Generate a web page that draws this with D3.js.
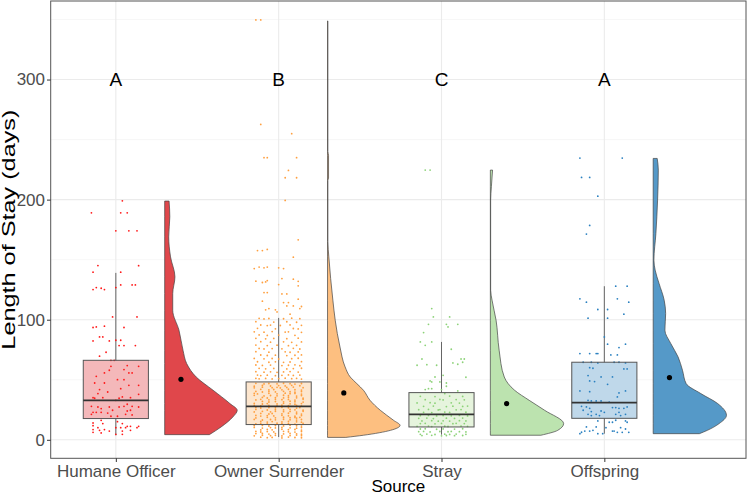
<!DOCTYPE html>
<html><head><meta charset="utf-8">
<script src="https://cdn.jsdelivr.net/npm/d3@7"></script>
<style>body{margin:0;background:#fff}svg{display:block}text{font-family:"Liberation Sans",Arial,sans-serif}</style>
</head><body><svg id="c" width="750" height="495"></svg>
<script>
const categories = ["Humane Officer","Owner Surrender","Stray","Offspring"];
const groupLetters = ["A","B","C","A"];
const yTicks = [0,100,200,300];
const yMinor = [50,150,250,350];
// [lower whisker, Q1, median, Q3, upper whisker]
const boxStats = [
  [3.8,17.7,32.9,66.2,139.0],
  [2.3,12.7,27.9,48.2,101.5],
  [4.3,10.7,21.2,39.3,81.5],
  [5.1,17.9,31.0,64.6,127.9]
];
const means = [50.4,39.0,30.2,51.8];
// half-violin profiles: [days, relative density]
const densHO = [[198.8,0.06],[185.7,0.07],[169,0.055],[152.3,0.08],[135.7,0.14],[121.8,0.11],[107.9,0.11],[91.3,0.195],[74.6,0.25],[63.5,0.30],[52.3,0.43],[41.3,0.66],[30.2,0.89],[24.6,0.99],[19,0.93],[10.7,0.77],[4.3,0.61]];
const densOS = [[348.8,0.005],[240,0.005],[237,0.014],[218,0.014],[216,0.005],[165,0.005],[152.3,0.018],[116.3,0.073],[99.6,0.105],[77.3,0.17],[60.7,0.24],[52.3,0.31],[46.8,0.40],[41.3,0.49],[32.9,0.58],[24.6,0.72],[16.3,0.90],[12,0.99],[7.9,0.86],[3.8,0.49],[2.0,0.25]];
const densStray = [[224.6,0.03],[210.7,0.014],[199.6,0.004],[124.6,0.004],[116.3,0.023],[99.6,0.078],[74.6,0.12],[52.3,0.19],[41.3,0.33],[32.9,0.53],[24.6,0.74],[13.5,1.0],[7.9,0.92],[3.8,0.69]];
const densOff = [[234.3,0.055],[224.6,0.07],[199.6,0.06],[171.8,0.037],[149.6,0.01],[141.3,0.027],[130.2,0.08],[116.3,0.15],[105.2,0.17],[91.3,0.16],[80.2,0.24],[69,0.34],[57.9,0.40],[46.8,0.45],[38.5,0.65],[30.2,0.88],[20.4,1.0],[13.5,0.90],[7.9,0.74],[5.1,0.63]];
// jittered observations: [horizontal jitter (category units), days]
const ptsHO = [[0.04,199],[-0.15,189],[0.03,189],[0.07,189],[0.00,174],[0.08,174],[0.13,174],[-0.11,145.1],[0.14,145],[-0.14,139.6],[0.03,139.6],[0.00,126.8],[0.03,129],[0.10,129],[0.12,129],[-0.14,125.1],[-0.12,126.8],[-0.09,126.2],[-0.07,125.1],[-0.02,102.3],[0.13,102.3],[-0.14,93.5],[-0.12,94],[-0.07,94.6],[0.05,93.5],[-0.14,82.3],[-0.10,85.7],[-0.08,85.7],[-0.04,82.3],[0.00,82.9],[0.03,82.9],[0.02,78.5],[0.05,78.5],[0.12,78.5],[-0.06,72.9],[-0.10,69.6],[-0.03,66.2],[-0.01,66.2],[0.07,61.8],[0.14,61.2],[-0.03,61.2],[0.05,58.5],[-0.07,55.7],[-0.04,57.9],[0.08,55.7],[0.10,55.7],[-0.12,52.9],[0.01,50.1],[-0.07,47.3],[0.05,50.1],[0.14,45.4],[-0.13,47.3],[0.08,45.4],[0.03,42.6],[-0.10,41.8],[-0.05,39.8],[-0.11,38.5],[0.14,37.9],[0.04,35.7],[-0.14,35.1],[-0.13,34.6],[-0.08,35.1],[0.00,32.9],[0.02,34.6],[0.09,35.1],[0.07,29.6],[-0.15,27.9],[-0.11,27.3],[-0.09,26],[-0.04,27.3],[0.05,27.9],[0.10,27.9],[0.14,27.3],[-0.02,24.6],[0.02,27.3],[-0.14,22.9],[-0.12,22.9],[-0.09,22.9],[-0.05,22.3],[0.07,24],[0.09,24.6],[-0.15,21.2],[0.01,19.6],[0.06,21.2],[0.10,20.7],[-0.03,19.6],[-0.09,16.2],[-0.14,14],[-0.08,13.5],[0.01,15.1],[0.04,13.5],[0.07,11.2],[0.09,11.2],[0.14,11.2],[-0.14,11.8],[-0.11,10.1],[-0.10,7.9],[-0.07,8.5],[0.00,10.1],[0.03,10.1],[0.06,10.1],[0.13,10.1],[-0.14,6.2],[-0.09,5.7],[-0.04,7.3],[0.04,7.3],[0.09,7.9],[-0.14,8.5],[0.00,4.6],[0.04,4.6]];
const ptsOS = [[-0.14,349.6],[-0.11,349.6],[-0.11,262.6],[0.08,254.9],[-0.09,234.9],[-0.07,234.9],[0.11,234.9],[0.06,224.3],[0.04,218.2],[0.11,218.2],[0.04,199.3],[0.12,166.5],[0.09,152.1],[-0.13,157.6],[-0.10,157.6],[-0.07,158.5],[-0.15,142.6],[-0.12,143.8],[-0.09,143.2],[-0.07,143.8],[0.00,143.2],[0.03,142.6],[-0.14,132.1],[-0.10,131.0],[-0.08,131.5],[-0.07,132.6],[0.00,129.3],[0.02,134.3],[0.09,133.8],[0.12,132.0],[0.12,128.2],[-0.09,122.6],[-0.07,122.6],[0.02,121.5],[0.05,121.5],[-0.10,115.4],[0.12,117.1],[0.03,114.3],[0.06,114.3],[0.05,111.5],[0.09,111.5],[0.13,109.3],[0.14,111.0],[-0.08,108.2],[-0.06,109.3],[-0.02,108.2],
[-0.01,106.5],[0.07,104.6],[-0.12,101.2],[-0.09,100.7],[-0.06,101.0],[0.03,100.8],[0.08,101.3],[0.13,100.9],[-0.14,98.4],[-0.03,98.0],[0.05,98.3],[0.11,97.9],[-0.11,95.6],[-0.07,95.1],[-0.05,95.5],[0.01,95.2],[0.07,95.7],[0.14,95.3],[-0.13,92.8],[-0.02,92.4],[0.09,92.7],[0.12,92.3],[-0.15,89.9],[-0.09,89.6],[-0.04,90.1],[0.04,89.7],[0.06,89.9],[0.14,89.5],[-0.12,87.3],[-0.07,86.9],[0.00,87.2],[0.10,87.0],[-0.14,84.5],[-0.08,84.1],[-0.03,84.4],[0.05,84.2],[0.12,84.6],[-0.11,81.7],[-0.05,81.3],[0.03,81.6],[0.08,81.2],[0.14,81.5],[-0.14,78.9],[-0.07,78.5],[-0.01,78.8],[0.06,78.4],[0.11,78.7],[-0.12,76.1],[-0.09,75.7],[-0.04,76.0],[0.02,75.8],[0.09,76.2],[0.13,75.6],[-0.14,73.4],[-0.06,73.0],[0.04,73.3],[0.07,72.9],[0.12,73.2],[-0.11,70.6],[-0.07,70.2],[-0.02,70.5],[0.05,70.1],[0.10,70.4],[0.14,70.7],[-0.15,67.8],[-0.09,67.4],[-0.04,67.7],[0.00,67.3],[0.08,67.6],[0.12,67.9],[-0.13,65.0],[-0.06,64.6],[-0.02,64.9],[0.03,64.5],[0.07,64.8],[0.14,65.1],[-0.14,62.3],[-0.10,61.9],[-0.05,62.2],[0.02,61.8],[0.06,62.1],[0.10,62.4],[0.13,61.7],[-0.12,59.5],[-0.08,59.1],[-0.03,59.4],[0.05,59.0],[0.09,59.3],[0.14,59.6],[-0.14,56.7],[-0.09,56.3],[-0.05,56.6],[-0.01,56.2],[0.03,56.5],[0.07,56.8],[0.12,56.4],[-0.13,53.9],[-0.11,53.5],[-0.07,53.8],[-0.02,53.4],[0.02,53.7],[0.06,54.0],[0.09,53.6],[0.13,53.9],[-0.14,51.2],[-0.12,50.8],[-0.08,51.1],[-0.04,50.7],[0.00,51.0],[0.04,51.3],[0.08,50.9],[0.11,51.2],[0.14,50.6],
[-0.14,47.0],[-0.09,46.5],[-0.06,46.9],[-0.01,46.6],[0.03,47.1],[0.07,46.7],[0.10,46.4],[0.14,46.9],[-0.10,45.3],[-0.05,44.8],[0.00,45.2],[0.04,44.9],[0.08,45.4],[0.13,45.0],[-0.15,44.7],[-0.15,43.3],[-0.10,43.8],[-0.04,43.4],[-0.01,43.7],[0.01,43.2],[0.05,43.6],[0.09,43.9],[0.15,43.4],[-0.11,42.0],[-0.06,41.5],[-0.03,41.9],[0.02,41.6],[0.06,42.1],[0.10,41.7],[0.14,41.4],[-0.14,40.3],[-0.10,39.8],[-0.06,40.2],[-0.02,39.9],[0.03,40.4],[0.07,40.0],[0.10,39.7],[0.14,40.2],[-0.13,38.2],[-0.06,38.7],[-0.01,38.3],[0.04,38.8],[0.07,38.4],[0.10,38.6],[0.14,38.1],[-0.15,38.7],[-0.15,37.0],[-0.09,36.5],[-0.05,36.9],[-0.01,36.6],[0.03,37.1],[0.06,36.7],[0.11,36.4],[0.14,36.9],[-0.10,35.3],[-0.07,34.8],[-0.02,35.2],[0.03,34.9],[0.06,35.4],[0.11,35.0],[0.15,34.7],[-0.14,33.2],[-0.11,33.7],[-0.06,33.3],[-0.02,33.8],[0.02,33.4],[0.06,33.6],[0.10,33.1],[0.15,33.7],[-0.10,32.0],[-0.06,31.5],[-0.02,31.9],[0.03,31.6],[0.07,32.1],[0.10,31.7],[0.15,31.4],[-0.15,30.3],[-0.10,29.8],[-0.07,30.2],[-0.01,29.9],[0.03,30.4],[0.07,30.0],[0.10,29.7],[0.14,30.2],[-0.11,28.2],[-0.06,28.7],[-0.01,28.3],[0.02,28.8],[0.06,28.4],[0.11,28.6],[0.14,28.1],[-0.15,28.7],[-0.14,27.0],[-0.11,26.5],[-0.06,26.9],[-0.02,26.6],[0.02,27.1],[0.06,26.7],[0.11,26.4],[0.13,26.9],[-0.14,25.3],[-0.07,24.8],[-0.02,25.2],[0.03,24.9],[0.07,25.4],[0.10,25.0],[0.15,24.7],[-0.15,23.2],[-0.10,23.7],[-0.05,23.3],[-0.02,23.8],[0.03,23.4],[0.07,23.6],[0.11,23.1],[0.15,23.7],[-0.11,22.0],[-0.06,21.5],[-0.04,21.9],[0.02,21.6],[0.06,22.1],[0.11,21.7],[0.14,21.4],[-0.14,20.3],[-0.11,19.8],[-0.07,20.2],[-0.03,19.9],[0.02,20.4],[0.06,20.0],[0.10,19.7],[0.14,20.2],[-0.14,18.2],[-0.07,18.7],[-0.02,18.3],[0.03,18.8],[0.07,18.4],[0.10,18.6],[0.11,18.1],[0.13,18.7],[-0.15,17.0],[-0.10,16.5],[-0.05,16.9],[-0.02,16.6],[0.03,17.1],[0.07,16.7],[0.11,16.4],[0.14,16.9],[-0.11,15.3],[-0.07,14.8],[-0.04,15.2],[0.02,14.9],[0.06,15.4],[0.11,15.0],[0.14,14.7],[-0.14,13.2],[-0.11,13.7],[-0.07,13.3],[-0.01,13.8],[0.02,13.4],[0.06,13.6],[0.10,13.1],[0.15,13.7],
[-0.10,12.0],[-0.06,11.5],[-0.02,11.9],[0.03,11.6],[0.07,12.1],[0.11,11.7],[0.14,11.4],[-0.15,11.9],[-0.15,10.3],[-0.10,9.8],[-0.05,10.2],[-0.02,9.9],[0.02,10.4],[0.07,10.0],[0.11,9.7],[0.14,10.2],[-0.11,8.2],[-0.07,8.7],[-0.04,8.3],[0.02,8.8],[0.06,8.4],[0.10,8.6],[0.14,8.1],[-0.14,7.0],[-0.11,6.5],[-0.07,6.9],[-0.03,6.6],[0.03,7.1],[0.06,6.7],[0.10,6.4],[0.14,6.9],[-0.10,5.3],[-0.06,4.8],[-0.02,5.2],[0.03,4.9],[0.07,5.4],[0.11,5.0],[0.14,4.7],[-0.14,5.2],[-0.15,3.3],[-0.10,3.8],[-0.05,3.4],[-0.02,3.7],[0.02,3.2],[0.07,3.6],[0.11,3.9],[0.14,3.4],[-0.11,2.2],[-0.07,1.8],[-0.04,2.0],[0.02,1.6],[0.06,2.3],[0.10,1.9],[0.14,1.7]];
const ptsStray = [[-0.10,224.6],[-0.07,224.6],[-0.06,109.3],[-0.05,102.3],[0.05,102.3],[-0.08,96.2],[0.03,96.2],[0.04,94.0],[0.10,96.2],[-0.11,89.3],[-0.13,81.5],[-0.10,78.7],[-0.06,81.5],[0.06,75.4],[-0.12,67.3],[0.12,67.3],[0.14,67.3],[-0.15,62.1],[-0.09,62.6],[-0.03,62.1],[0.07,64.0],[0.10,62.9],[0.13,64.6],[0.01,53.7],[-0.04,52.3],[0.15,52.1],[-0.07,49.0],[-0.06,48.2],[-0.01,48.2],[0.03,47.3],[0.03,44.6],[-0.10,41.8],[-0.08,42.6],[-0.06,42.6],[0.00,41.8],[0.10,40.7],[0.02,38.5],
[-0.13,36.2],[-0.04,36.0],[0.05,36.4],[0.13,36.1],[-0.10,33.4],[-0.01,33.6],[0.01,33.2],[0.09,33.5],[0.14,33.3],[-0.15,30.7],[-0.07,30.9],[-0.04,30.5],[0.06,30.8],[0.11,30.6],[-0.11,27.9],[-0.05,28.1],[0.03,27.7],[0.07,28.0],[0.13,27.8],[0.16,28.1],[-0.14,25.1],[-0.08,25.3],[-0.02,24.9],[-0.01,25.2],[0.09,25.0],[0.12,25.2],[-0.11,22.9],[-0.06,22.7],[0.02,23.1],[0.05,22.8],[0.15,23.0],[-0.13,20.1],[-0.08,20.3],[-0.03,19.9],[0.01,20.2],[0.06,20.0],[0.11,20.3],[0.16,19.9],[-0.14,17.9],[-0.09,18.1],[-0.05,17.7],[0.03,18.0],[0.08,17.8],[0.13,18.1],[-0.12,15.7],[-0.06,15.9],[-0.02,15.5],[0.01,15.8],[0.05,15.6],[0.11,15.9],[0.15,15.7],[-0.13,13.5],[-0.10,13.7],[-0.04,13.3],[-0.00,13.6],[0.07,13.4],[0.09,13.7],[0.14,13.5],[-0.15,11.2],[-0.08,11.4],[-0.06,11.0],[0.02,11.3],[0.04,11.1],[0.12,11.4],[0.16,11.2],[-0.13,9.0],[-0.10,9.2],[-0.03,8.8],[0.01,9.1],[0.08,8.9],[0.13,9.2],[-0.14,6.8],[-0.11,7.0],[-0.07,6.6],[-0.01,6.9],[0.04,6.7],[0.06,7.0],[0.11,6.8],[0.15,6.6],[-0.13,4.6],[-0.09,4.8],[-0.04,4.4],[0.02,4.7],[0.05,4.5],[0.09,4.8],[0.15,4.6],[-0.12,3.5],[-0.06,3.7],[0.00,3.3],[0.03,3.6],[0.08,3.4],[0.13,3.6]];
const ptsOff = [[-0.15,234.6],[0.11,234.6],[-0.14,218.5],[-0.09,218.5],[-0.04,202.9],[-0.09,178.5],[-0.11,171.3],[0.07,127.9],[0.14,127.9],[-0.15,117.4],[-0.11,114.6],[0.08,117.4],[0.15,114.6],[-0.04,108.5],[0.02,108.5],[0.12,104.6],[-0.10,101.3],[0.02,101.3],[0.00,85.7],[0.02,79.6],[0.13,79.6],[0.09,76.8],[-0.15,71.8],[-0.09,71.8],[-0.05,71.8],[-0.04,71.8],[0.04,70.7],[0.08,70.7],[-0.13,64.6],[-0.08,64.6],[-0.04,64.0],[0.06,64.6],[0.09,64.6],[0.13,64.0],[-0.09,60.1],[-0.07,59.6],[0.12,59.0],[0.14,59.0],[-0.10,53.5],[-0.02,52.4],[0.05,52.4],[-0.06,48.5],[-0.09,49.0],[-0.15,40.7],[-0.09,40.1],[0.02,46.2],[0.13,40.7],[0.09,39.0],[0.08,35.7],[-0.10,32.9],[-0.08,32.4],[-0.05,32.4],[-0.02,32.4],[0.03,31.3],[-0.14,27.9],[-0.11,27.4],[-0.09,26.2],[0.05,26.8],[0.07,26.8],[0.09,26.2],[0.12,26.2],[0.14,27.4],[-0.13,24.6],[-0.08,23.5],[-0.02,24.0],[0.00,22.9],[0.09,22.9],[-0.10,21.2],[-0.08,20.2],[-0.05,21.2],[-0.03,20.2],[0.07,21.2],[0.10,20.2],[0.13,21.2],[0.07,16.3],[0.13,15.7],[-0.04,15.7],[0.03,14.6],[0.05,14.6],[0.14,14.6],[-0.11,10.7],[-0.05,10.7],[0.01,10.1],[0.10,10.1],[0.13,9.0],[-0.14,6.3],[-0.12,7.3],[-0.09,7.3],[-0.07,7.9],[-0.04,5.1],[0.05,7.3],[0.06,7.3],[0.08,6.2],[0.11,6.2],[0.15,6.2],[-0.15,5.1],[-0.01,5.1]];

const densities = [densHO, densOS, densStray, densOff];
const points = [ptsHO, ptsOS, ptsStray, ptsOff];
const violinFill = ["#E0474B","#FDBF80","#BCE3AF","#5599C8"];
const boxFill = ["#F4B8BA","#FDE6CE","#E6F4DD","#BFD8EA"];
const pointColor = ["#FF1A1A","#FFA040","#8CD278","#2A80C0"];

const svg = d3.select("#c");
const P = {l:50.7, r:746, t:1, b:458.3};
const x = d3.scaleLinear().domain([0.6, 4.87]).range([P.l, P.r]);
const y = d3.scaleLinear().domain([-15.4, 365.4]).range([P.b, P.t]);
const boxHalf = 0.2, violinOff = 0.3, violinMax = 0.45, meanOff = 0.4;

const g = svg.append("g");
// grid
g.selectAll(".minor").data(yMinor).join("line")
  .attr("x1",P.l).attr("x2",P.r).attr("y1",d=>y(d)).attr("y2",d=>y(d))
  .attr("stroke","#f2f2f2").attr("stroke-width",0.6);
g.selectAll(".major").data(yTicks).join("line")
  .attr("x1",P.l).attr("x2",P.r).attr("y1",d=>y(d)).attr("y2",d=>y(d))
  .attr("stroke","#ebebeb").attr("stroke-width",1.1);
g.selectAll(".vmajor").data(categories).join("line")
  .attr("x1",(d,i)=>x(i+1)).attr("x2",(d,i)=>x(i+1)).attr("y1",P.t).attr("y2",P.b)
  .attr("stroke","#ebebeb").attr("stroke-width",1.1);

// violins
const area = d3.area().curve(d3.curveMonotoneY);
densities.forEach((dens,i)=>{
  const c = i+1;
  area.y(d=>y(d[0])).x0(x(c+violinOff)).x1(d=>x(c+violinOff+violinMax*d[1]));
  g.append("path").attr("d",area(dens)).attr("fill",violinFill[i])
    .attr("stroke","#444").attr("stroke-width",0.7);
});

// boxplots
boxStats.forEach((s,i)=>{
  const c = i+1;
  g.append("line").attr("x1",x(c)).attr("x2",x(c)).attr("y1",y(s[0])).attr("y2",y(s[4]))
    .attr("stroke","#666").attr("stroke-width",1);
  g.append("rect").attr("x",x(c-boxHalf)).attr("width",x(c+boxHalf)-x(c-boxHalf))
    .attr("y",y(s[3])).attr("height",y(s[1])-y(s[3])).attr("fill",boxFill[i]);
});
// points
points.forEach((pts,i)=>{
  const c=i+1;
  g.append("g").selectAll("circle").data(pts).join("circle")
    .attr("cx",d=>x(c+d[0])).attr("cy",d=>y(d[1])).attr("r",0.9)
    .attr("fill",pointColor[i]);
});
boxStats.forEach((s,i)=>{
  const c = i+1;
  g.append("rect").attr("x",x(c-boxHalf)).attr("width",x(c+boxHalf)-x(c-boxHalf))
    .attr("y",y(s[3])).attr("height",y(s[1])-y(s[3])).attr("fill","none")
    .attr("stroke","#555").attr("stroke-width",1);
  g.append("line").attr("x1",x(c-boxHalf)).attr("x2",x(c+boxHalf)).attr("y1",y(s[2])).attr("y2",y(s[2]))
    .attr("stroke","#333").attr("stroke-width",1.8);
});
// means
g.selectAll(".mean").data(means).join("circle")
  .attr("cx",(d,i)=>x(i+1+meanOff)).attr("cy",d=>y(d)).attr("r",2.6).attr("fill","#000");
// letters
g.selectAll(".let").data(groupLetters).join("text")
  .attr("x",(d,i)=>x(i+1)).attr("y",y(300)).attr("dy","0.36em")
  .attr("text-anchor","middle").attr("font-size",19).attr("fill","#000").text(d=>d);

// border
svg.append("rect").attr("x",P.l).attr("y",P.t).attr("width",P.r-P.l).attr("height",P.b-P.t)
  .attr("fill","none").attr("stroke","#555").attr("stroke-width",1);

// axes
const ya = svg.append("g").attr("transform",`translate(${P.l},0)`)
  .call(d3.axisLeft(y).tickValues(yTicks).tickSize(3.7).tickPadding(2));
const xa = svg.append("g").attr("transform",`translate(0,${P.b})`)
  .call(d3.axisBottom(x).tickValues([1,2,3,4]).tickFormat(d=>categories[d-1]).tickSize(3.7).tickPadding(3));
[ya,xa].forEach(a=>{
  a.select(".domain").remove();
  a.selectAll(".tick line").attr("stroke","#333");
  a.selectAll("text").attr("font-size",17).attr("fill","#4d4d4d").attr("font-family","Liberation Sans, Arial, sans-serif");
});

svg.append("text").attr("x",(P.l+P.r)/2).attr("y",492).attr("text-anchor","middle")
  .attr("font-size",17).attr("fill","#000").text("Source");
svg.append("text").attr("transform",`translate(15,${(P.t+P.b)/2}) rotate(-90)`)
  .attr("text-anchor","middle").attr("font-size",17.5).attr("fill","#000")
  .attr("textLength",240).attr("lengthAdjust","spacingAndGlyphs").text("Length of Stay (days)");
</script></body></html>
